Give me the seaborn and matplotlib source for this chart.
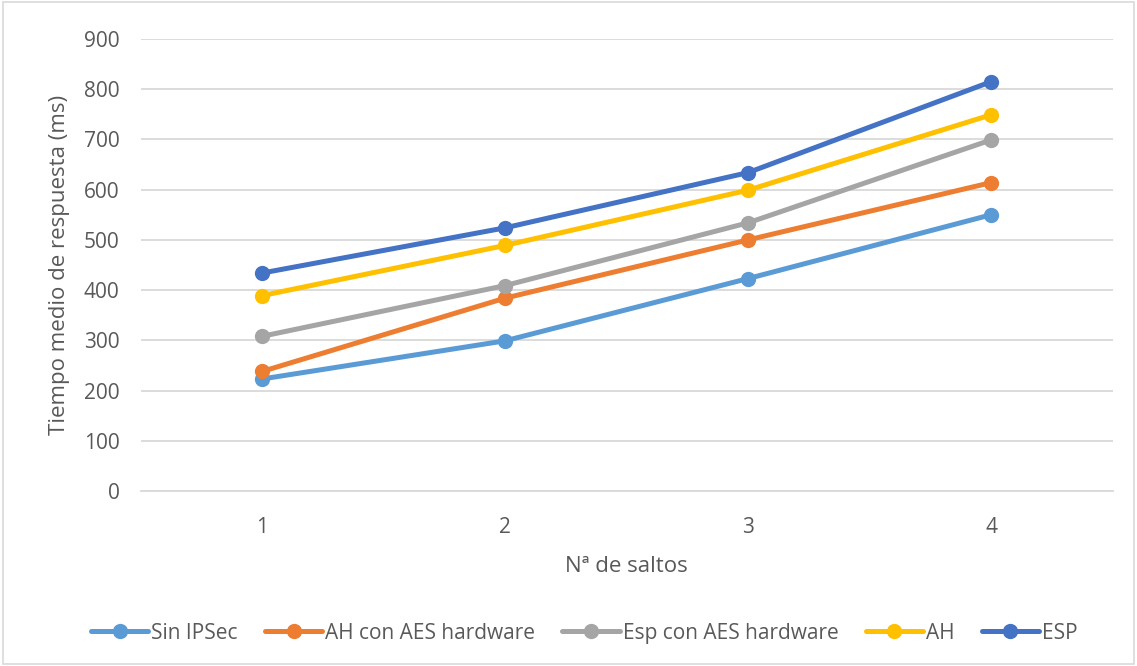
import numpy as np
import pandas as pd
import matplotlib
matplotlib.use("Agg")
import matplotlib.pyplot as plt
import seaborn as sns

saltos = [1, 2, 3, 4]
sin_ipsec = [223, 299, 423, 550]
ah_aes = [238, 384, 500, 614]
esp_aes = [308, 409, 534, 699]
ah = [389, 489, 599, 749]
esp = [434, 524, 634, 815]
series_names = ["Sin IPSec", "AH con AES hardware", "Esp con AES hardware", "AH", "ESP"]
colors = ["#5B9BD5", "#ED7D31", "#A5A5A5", "#FFC000", "#4472C4"]
yticks = [0, 100, 200, 300, 400, 500, 600, 700, 800, 900]

rows = []
for name, vals in zip(series_names, [sin_ipsec, ah_aes, esp_aes, ah, esp]):
    for s, v in zip(saltos, vals):
        rows.append({"saltos": s, "tiempo": v, "serie": name})
df = pd.DataFrame(rows)

sns.set_theme(style="white")
plt.rcParams['font.family'] = ['Open Sans', 'DejaVu Sans']

fig = plt.figure(figsize=(11.37, 6.66), dpi=100)
ax = fig.add_axes([0.1236, 0.2628, 0.8549, 0.6786])

sns.lineplot(data=df, x="saltos", y="tiempo", hue="serie", hue_order=series_names,
             palette=colors, marker="o", markersize=11, markeredgewidth=0,
             linewidth=3.6, ax=ax, legend=True)

ax.set_xlim(0.5, 4.5)
ax.set_ylim(0, 900)
ax.set_xticks(saltos)
ax.set_xticklabels([str(s) for s in saltos])
ax.set_yticks(yticks)
ax.grid(axis="y", color="#D9D9D9", linewidth=1.3)
ax.set_axisbelow(True)
for sp in ["top", "right", "left"]:
    ax.spines[sp].set_visible(False)
ax.spines["bottom"].set_color("#D9D9D9")
ax.spines["bottom"].set_linewidth(1.3)
ax.tick_params(axis="both", length=0, labelsize=15, labelcolor="#595959")
ax.tick_params(axis="y", pad=15)
ax.tick_params(axis="x", pad=19)
ax.set_xlabel("Nª de saltos", fontsize=16, color="#595959", labelpad=13)
ax.set_ylabel("Tiempo medio de respuesta (ms)", fontsize=16, color="#595959", labelpad=10)

handles, labels = ax.get_legend_handles_labels()
ax.legend(handles, labels, loc="center", bbox_to_anchor=(0.514, 0.0495), bbox_transform=fig.transFigure,
          ncol=5, frameon=False, fontsize=15, labelcolor="#595959", handlelength=2.75,
          handletextpad=0.15, columnspacing=1.3)

fig.patches.append(plt.Rectangle((0.003, 0.003), 0.994, 0.994, transform=fig.transFigure,
                                 fill=False, edgecolor="#D9D9D9", linewidth=1.2))
fig.savefig("out.png", dpi=100, facecolor="white")
